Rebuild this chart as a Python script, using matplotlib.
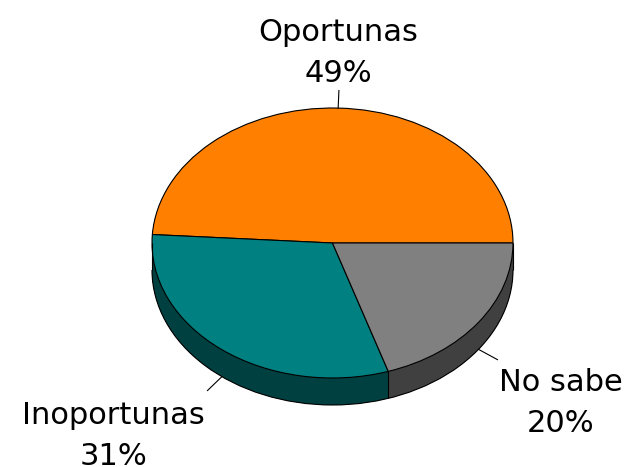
import numpy as np
import matplotlib
matplotlib.use("Agg")
import matplotlib.pyplot as plt
from matplotlib.patches import Arc

# ---- data ----
categories = ["Oportunas", "Inoportunas", "No sabe"]
values = [49, 31, 20]
pct_labels = ["49%", "31%", "20%"]

# ---- style ----
top_colors = ["#FF8000", "#008080", "#808080"]
side_colors = ["#804000", "#004040", "#404040"]
DEPTH = 0.2          # thickness of the pie (data units of the y axis)
LEADER = 0.13        # length of the leader lines
EDGE_LW = 0.8
# label anchors (x center, y of last baseline) in axis data units
label_pos = {"Oportunas": (0.033, 1.1926),
             "Inoportunas": (-1.2133, -1.644),
             "No sabe": (1.266, -1.40)}

fig = plt.figure(figsize=(6.32, 4.67), dpi=100)
ax = fig.add_axes([0, 0, 1, 1])

# side of the pie: stacked copies shifted downward, bottom first
for d in np.linspace(DEPTH, 0, 90)[:-1]:
    ax.pie(values, colors=side_colors, startangle=0, counterclock=True,
           center=(0, -d), radius=1, wedgeprops=dict(linewidth=0))

# outline of the side
ax.add_patch(Arc((0, -DEPTH), 2, 2, theta1=180, theta2=360,
                 edgecolor="black", linewidth=EDGE_LW))
bounds = np.cumsum([0] + values) / np.sum(values) * 360.0
edge_angles = [180.0, 360.0] + [b for b in bounds[1:-1] if np.sin(np.radians(b)) < 0]
ex = np.cos(np.radians(edge_angles))
ey = np.sin(np.radians(edge_angles))
ey = np.where(np.abs(ex) > 0.999, 0.0, ey)
ax.vlines(ex, ey - DEPTH, ey, colors="black", linewidth=EDGE_LW)

# top face
ax.pie(values, colors=top_colors, startangle=0, counterclock=True,
       center=(0, 0), radius=1,
       wedgeprops=dict(edgecolor="black", linewidth=EDGE_LW))

# leader lines and labels
mids = (bounds[:-1] + bounds[1:]) / 2.0
for cat, pct, mid in zip(categories, pct_labels, mids):
    t = np.radians(mid)
    c, s = np.cos(t), np.sin(t)
    y0 = s - DEPTH if s < 0 else s
    ax.plot([c, c + LEADER * c], [y0, y0 + LEADER * s],
            color="black", linewidth=EDGE_LW)
    lx, ly = label_pos[cat]
    ax.text(lx, ly, f"{cat}\n{pct}", ha="center", va="baseline",
            fontsize=22, family="DejaVu Sans", linespacing=1.53,
            color="black")

ax.set_aspect("auto")
ax.set_xlim(-1.8421, 1.6593)
ax.set_ylim(-1.6593, 1.8)
ax.axis("off")

fig.savefig("out.png", dpi=100, facecolor="white")
